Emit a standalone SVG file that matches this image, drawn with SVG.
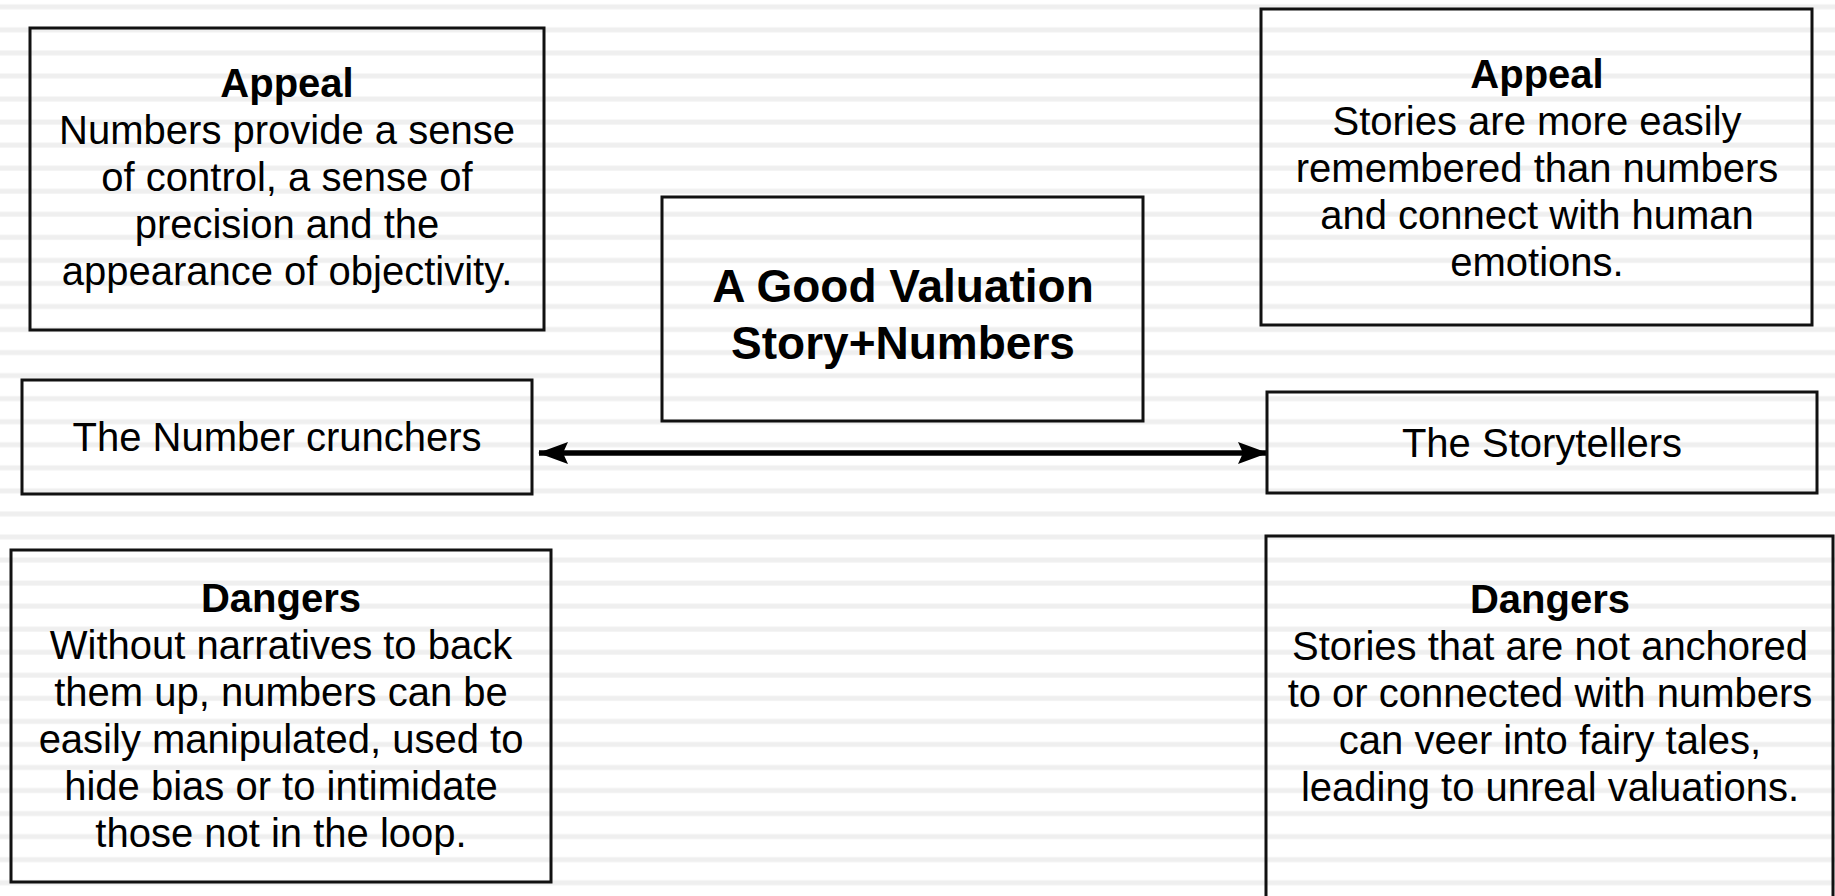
<svg xmlns="http://www.w3.org/2000/svg" width="1835" height="896" viewBox="0 0 1835 896">
<style>
.box{fill:none;stroke:#111;stroke-width:3}
.t{font-family:"Liberation Sans",Arial,Helvetica,sans-serif;font-size:40px;fill:#000;text-anchor:middle}
.b{font-weight:bold}
.title{font-family:"Liberation Sans",Arial,Helvetica,sans-serif;font-size:46px;font-weight:bold;fill:#000;text-anchor:middle}
.conn{stroke:#000;stroke-width:5.5;fill:none}
</style>
<defs>
<pattern id="stripes" x="0" y="0" width="1835" height="23.05" patternUnits="userSpaceOnUse">
<rect x="0" y="4.3" width="1835" height="5" fill="#efefef"/>
</pattern>
<marker id="ah" viewBox="0 0 30 22" refX="29" refY="11" markerWidth="30" markerHeight="22" markerUnits="userSpaceOnUse" orient="auto-start-reverse">
<path d="M0,0 L30,11 L0,22 L5,11 Z" fill="#000"/>
</marker>
</defs>
<rect width="1835" height="896" fill="#fff"/>
<rect width="1835" height="896" fill="url(#stripes)"/>

<g id="connectors">
<line class="conn" x1="539" y1="453" x2="1267" y2="453" marker-start="url(#ah)" marker-end="url(#ah)"/>
</g>

<g id="numbers-appeal">
<rect class="box" x="30" y="28" width="514" height="302"/>
<text class="t b" x="287" y="97">Appeal</text>
<text class="t" x="287" y="144">Numbers provide a sense</text>
<text class="t" x="287" y="191">of control, a sense of</text>
<text class="t" x="287" y="238">precision and the</text>
<text class="t" x="287" y="285">appearance of objectivity.</text>
</g>

<g id="stories-appeal">
<rect class="box" x="1261" y="9" width="551" height="316"/>
<text class="t b" x="1537" y="88">Appeal</text>
<text class="t" x="1537" y="135">Stories are more easily</text>
<text class="t" x="1537" y="182">remembered than numbers</text>
<text class="t" x="1537" y="229">and connect with human</text>
<text class="t" x="1537" y="276">emotions.</text>
</g>

<g id="center">
<rect class="box" x="662" y="197" width="481" height="224"/>
<text class="title" x="903" y="302">A Good Valuation</text>
<text class="title" x="903" y="359">Story+Numbers</text>
</g>

<g id="number-crunchers">
<rect class="box" x="22" y="380" width="510" height="114"/>
<text class="t" x="277" y="451">The Number crunchers</text>
</g>

<g id="storytellers">
<rect class="box" x="1267" y="392" width="550" height="101"/>
<text class="t" x="1542" y="457">The Storytellers</text>
</g>

<g id="numbers-dangers">
<rect class="box" x="11" y="550" width="540" height="332"/>
<text class="t b" x="281" y="612">Dangers</text>
<text class="t" x="281" y="659">Without narratives to back</text>
<text class="t" x="281" y="706">them up, numbers can be</text>
<text class="t" x="281" y="753">easily manipulated, used to</text>
<text class="t" x="281" y="800">hide bias or to intimidate</text>
<text class="t" x="281" y="847">those not in the loop.</text>
</g>

<g id="stories-dangers">
<rect class="box" x="1266" y="536" width="567" height="380"/>
<text class="t b" x="1550" y="613">Dangers</text>
<text class="t" x="1550" y="660">Stories that are not anchored</text>
<text class="t" x="1550" y="707">to or connected with numbers</text>
<text class="t" x="1550" y="754">can veer into fairy tales,</text>
<text class="t" x="1550" y="801">leading to unreal valuations.</text>
</g>
</svg>
